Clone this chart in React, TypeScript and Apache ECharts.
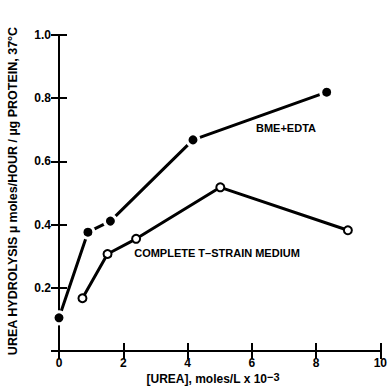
import React, { useEffect, useRef } from "react";
import * as echarts from "echarts";

const bmeX = [0, 0.9, 1.6, 4.17, 8.33];
const bmeY = [0.105, 0.376, 0.411, 0.668, 0.819];
const tsX = [0.73, 1.51, 2.4, 5.02, 8.99];
const tsY = [0.167, 0.307, 0.355, 0.518, 0.382];
const bmeLabel = "BME+EDTA";
const tsLabel = "COMPLETE T\u2013STRAIN MEDIUM";
const yTitle = "UREA HYDROLYSIS \u00b5 moles/HOUR / \u00b5g PROTEIN, 37\u00b0C";
const xTitle = "[UREA], moles/L x 10";
const xTitleSup = "\u22123";

const FONT = "Liberation Sans, Arial, sans-serif";

export default function App() {
  const ref = useRef<HTMLDivElement>(null);
  useEffect(() => {
    document.body.style.margin = "0";
    const chart = echarts.init(ref.current!, null, { renderer: "svg" });
    const axisCommon = {
      type: "value" as const,
      axisLine: { show: true, lineStyle: { color: "#000", width: 2 } },
      axisTick: { show: true, inside: true, length: 8, lineStyle: { color: "#000", width: 2 } },
      splitLine: { show: false },
    };
    chart.setOption({
      animation: false,
      backgroundColor: "#fff",
      grid: { left: 59, right: 7, top: 35, bottom: 38 },
      xAxis: [
        {
          ...axisCommon,
          position: "bottom",
          min: 0,
          max: 10,
          interval: 2,
          axisLabel: { color: "#000", fontFamily: FONT, fontWeight: "bold", fontSize: 12, margin: 6 },
        },
        {
          ...axisCommon,
          position: "top",
          min: 0,
          max: 10,
          interval: 2,
          axisLabel: { show: false },
        },
      ],
      yAxis: [
        {
          ...axisCommon,
          position: "left",
          min: 0,
          max: 1,
          interval: 0.2,
          axisLabel: {
            color: "#000",
            fontFamily: FONT,
            fontWeight: "bold",
            fontSize: 12,
            margin: 8,
            formatter: (v: number) => (v === 0 ? "" : v.toFixed(1)),
          },
        },
        {
          ...axisCommon,
          position: "right",
          min: 0,
          max: 1,
          interval: 0.2,
          axisLabel: { show: false },
        },
      ],
      series: [
        {
          type: "line",
          data: bmeX.map((x, i) => [x, bmeY[i]]),
          symbol: "circle",
          symbolSize: 12,
          lineStyle: { color: "#000", width: 3 },
          itemStyle: { color: "#000", borderColor: "#fff", borderWidth: 3 },
          z: 3,
        },
        {
          type: "line",
          data: tsX.map((x, i) => [x, tsY[i]]),
          symbol: "circle",
          symbolSize: 8,
          lineStyle: { color: "#000", width: 3 },
          itemStyle: { color: "#fff", borderColor: "#000", borderWidth: 2 },
          z: 3,
        },
      ],
      graphic: [
        {
          type: "text",
          x: 286,
          y: 128,
          style: {
            text: bmeLabel,
            fontFamily: FONT,
            fontWeight: "bold",
            fontSize: 11,
            fill: "#000",
            align: "center",
            verticalAlign: "middle",
          },
        },
        {
          type: "text",
          x: 217,
          y: 253,
          style: {
            text: tsLabel,
            fontFamily: FONT,
            fontWeight: "bold",
            fontSize: 11,
            fill: "#000",
            align: "center",
            verticalAlign: "middle",
          },
        },
        {
          type: "text",
          x: 13,
          y: 191,
          rotation: Math.PI / 2,
          style: {
            text: yTitle,
            fontFamily: FONT,
            fontWeight: "bold",
            fontSize: 12.5,
            fill: "#000",
            align: "center",
            verticalAlign: "middle",
          },
        },
        {
          type: "text",
          x: 213,
          y: 378,
          style: {
            text: "{a|" + xTitle + "}{b|" + xTitleSup + "}",
            fontFamily: FONT,
            align: "center",
            verticalAlign: "middle",
            rich: {
              a: { fontFamily: FONT, fontWeight: "bold", fontSize: 12, fill: "#000", verticalAlign: "bottom", lineHeight: 14 },
              b: { fontFamily: FONT, fontWeight: "bold", fontSize: 11, fill: "#000", verticalAlign: "top", lineHeight: 14, padding: [0, 0, 6, 0] },
            },
          },
        },
      ],
    });
    return () => chart.dispose();
  }, []);
  return <div ref={ref} style={{ position: "absolute", left: 0, top: 0, width: 390, height: 389 }} />;
}
